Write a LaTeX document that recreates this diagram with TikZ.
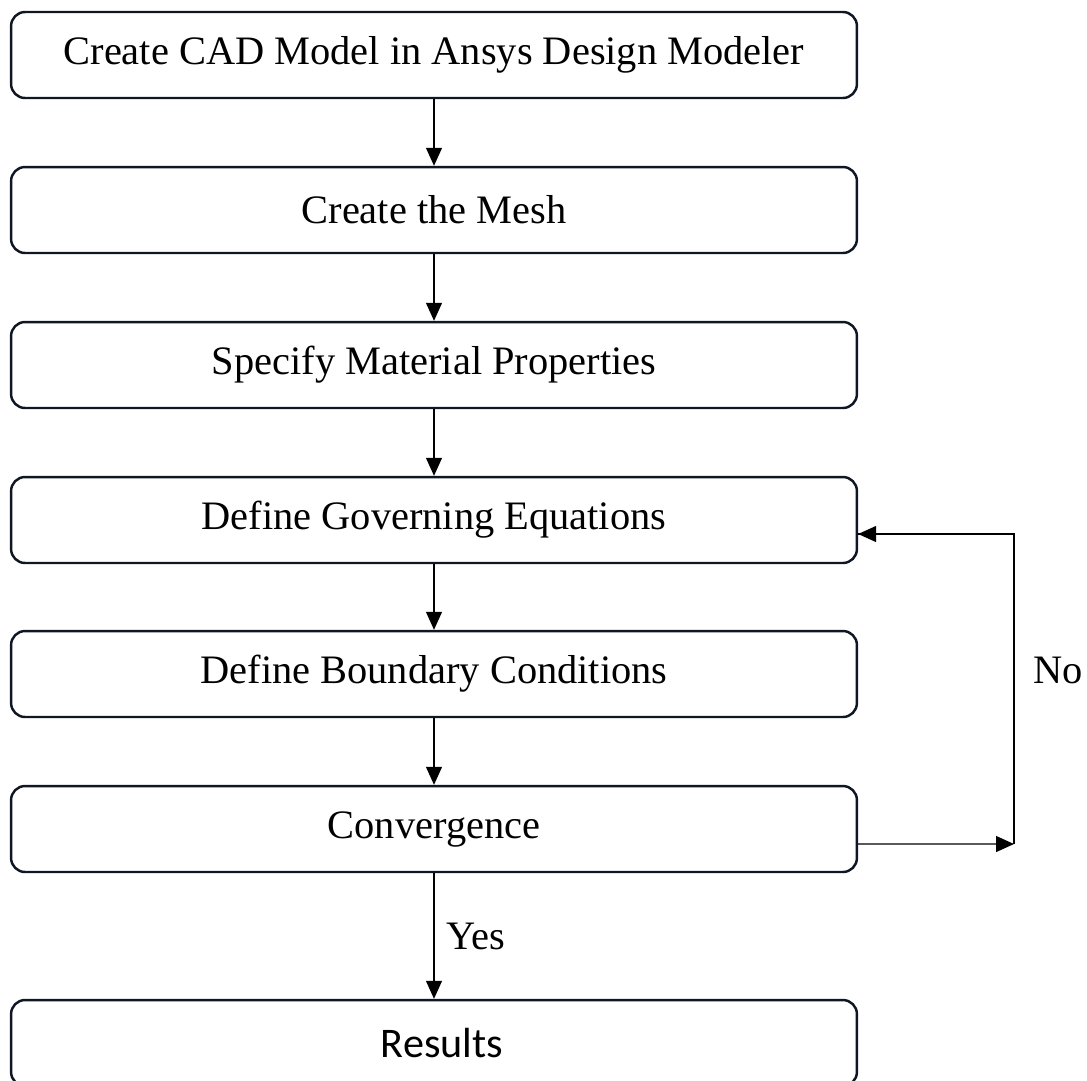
\documentclass[tikz,border=0pt]{standalone}
\usepackage{fontspec}
\setmainfont{Liberation Serif}
\newfontfamily\calfont{Carlito}
\usetikzlibrary{arrows.meta}
\definecolor{boxline}{RGB}{15,22,36}
\tikzset{
  stepbox/.style={draw=boxline, line width=1.4pt, rounded corners=0.28cm,
    minimum width=16.92cm, minimum height=1.72cm, inner sep=0pt,
    font=\fontsize{23}{27}\selectfont},
  flow/.style={draw=black, line width=0.7pt, -{Triangle[length=0.36cm,width=0.32cm]}},
  tag/.style={font=\fontsize{23}{27}\selectfont}
}
\begin{document}
\begin{tikzpicture}[x=0.02cm,y=-0.02cm]
	\useasboundingbox (0,0) rectangle (1087,1080);
	\clip (0,0) rectangle (1087,1080);
	% the steps, top to bottom
	\node[stepbox] (cad)  at (434,55)   {Create CAD Model in Ansys Design Modeler};
	\node[stepbox] (mesh) at (434,210)  {Create the Mesh};
	\node[stepbox] (mat)  at (434,365)  {Specify Material Properties};
	\node[stepbox] (gov)  at (434,520)  {Define Governing Equations};
	\node[stepbox] (bc)   at (434,674)  {Define Boundary Conditions};
	\node[stepbox] (conv) at (434,829)  {Convergence};
	\node[stepbox] (res) at (434,1043) {};
	\node[font=\calfont\fontsize{24}{28}\selectfont] (restext) at (442,1043) {Results};
	
	\draw[flow] (cad) -- (mesh);
	\draw[flow] (mesh) -- (mat);
	\draw[flow] (mat) -- (gov);
	\draw[flow] (gov) -- (bc);
	\draw[flow] (bc) -- (conv);
	\draw[flow] (conv) -- node[tag, right=0.12cm] (yes) {Yes} (res);
	
	% loop back when not converged
	\coordinate (out) at ([yshift=-0.3cm]conv.east);
	\coordinate (back) at ([yshift=-0.28cm]gov.east);
	\coordinate (turn) at (1014,844);
	\draw[flow] (out) -- (turn);
	\draw[flow, -] (turn) |- (back);
	\draw[flow] (turn |- back) -- (back);
	\node[tag] (no) at (1058,670) {No};
\end{tikzpicture}
\end{document}
